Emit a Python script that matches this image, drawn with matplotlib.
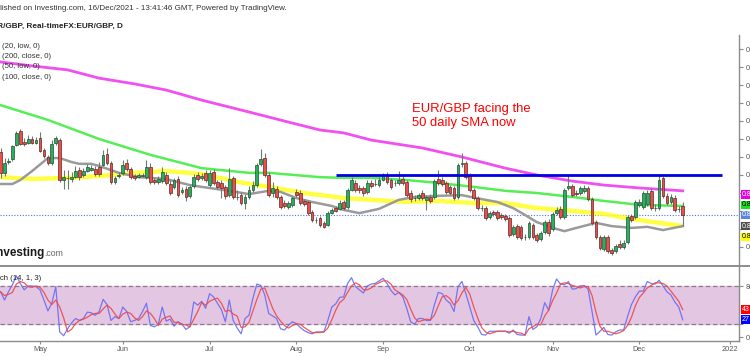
import numpy as np
import pandas as pd
import matplotlib
matplotlib.use('Agg')
import matplotlib.pyplot as plt
from matplotlib.transforms import blended_transform_factory
from matplotlib.lines import Line2D

plt.rcParams['font.family'] = ['Liberation Sans', 'DejaVu Sans']

# ---------------- data (daily EUR/GBP candles, 19 Apr - 16 Dec 2021) ----------------
start_date = '2021-04-19'

opens = [
    0.8664, 0.8606, 0.8636, 0.8644, 0.8683, 0.8722, 0.8692, 0.8689, 0.8700, 0.8689,
    0.8703, 0.8669, 0.8650, 0.8633, 0.8689, 0.8697, 0.8586, 0.8592, 0.8589, 0.8594,
    0.8614, 0.8600, 0.8611, 0.8614, 0.8617, 0.8622, 0.8628, 0.8658, 0.8633, 0.8581,
    0.8597, 0.8606, 0.8633, 0.8617, 0.8597, 0.8594, 0.8597, 0.8594, 0.8622, 0.8586,
    0.8581, 0.8583, 0.8600, 0.8575, 0.8567, 0.8589, 0.8553, 0.8561, 0.8542, 0.8569,
    0.8600, 0.8592, 0.8606, 0.8572, 0.8608, 0.8581, 0.8578, 0.8567, 0.8544, 0.8592,
    0.8539, 0.8544, 0.8522, 0.8539, 0.8558, 0.8572, 0.8631, 0.8647, 0.8600, 0.8550,
    0.8561, 0.8539, 0.8522, 0.8511, 0.8517, 0.8553, 0.8550, 0.8528, 0.8525, 0.8497,
    0.8475, 0.8481, 0.8467, 0.8461, 0.8494, 0.8508, 0.8506, 0.8525, 0.8511, 0.8558,
    0.8578, 0.8564, 0.8564, 0.8553, 0.8578, 0.8575, 0.8572, 0.8586, 0.8600, 0.8586,
    0.8578, 0.8578, 0.8589, 0.8581, 0.8550, 0.8536, 0.8536, 0.8550, 0.8531, 0.8539,
    0.8539, 0.8589, 0.8586, 0.8578, 0.8567, 0.8564, 0.8539, 0.8631, 0.8633, 0.8600,
    0.8558, 0.8536, 0.8508, 0.8508, 0.8483, 0.8497, 0.8497, 0.8489, 0.8486, 0.8481,
    0.8436, 0.8458, 0.8456, 0.8428, 0.8428, 0.8461, 0.8433, 0.8422, 0.8442, 0.8469,
    0.8450, 0.8494, 0.8506, 0.8483, 0.8564, 0.8569, 0.8550, 0.8550, 0.8556, 0.8564,
    0.8533, 0.8469, 0.8428, 0.8394, 0.8428, 0.8392, 0.8389, 0.8408, 0.8400, 0.8414,
    0.8486, 0.8483, 0.8517, 0.8511, 0.8519, 0.8556, 0.8508, 0.8508, 0.8592, 0.8542,
    0.8525, 0.8536, 0.8506, 0.8514]

highs = [
    0.8675, 0.8647, 0.8647, 0.8683, 0.8722, 0.8728, 0.8703, 0.8711, 0.8708, 0.8706,
    0.8719, 0.8675, 0.8656, 0.8697, 0.8708, 0.8703, 0.8614, 0.8614, 0.8608, 0.8625,
    0.8622, 0.8619, 0.8631, 0.8628, 0.8625, 0.8636, 0.8669, 0.8675, 0.8639, 0.8597,
    0.8608, 0.8642, 0.8644, 0.8622, 0.8603, 0.8606, 0.8606, 0.8642, 0.8633, 0.8592,
    0.8597, 0.8622, 0.8608, 0.8586, 0.8592, 0.8597, 0.8567, 0.8569, 0.8572, 0.8603,
    0.8608, 0.8606, 0.8614, 0.8614, 0.8617, 0.8586, 0.8586, 0.8572, 0.8619, 0.8597,
    0.8558, 0.8553, 0.8547, 0.8569, 0.8583, 0.8633, 0.8672, 0.8661, 0.8608, 0.8581,
    0.8569, 0.8544, 0.8531, 0.8528, 0.8542, 0.8561, 0.8558, 0.8533, 0.8531, 0.8503,
    0.8483, 0.8486, 0.8472, 0.8500, 0.8508, 0.8514, 0.8531, 0.8531, 0.8564, 0.8594,
    0.8586, 0.8572, 0.8569, 0.8586, 0.8586, 0.8589, 0.8594, 0.8606, 0.8608, 0.8592,
    0.8586, 0.8611, 0.8597, 0.8586, 0.8558, 0.8544, 0.8550, 0.8558, 0.8544, 0.8547,
    0.8589, 0.8614, 0.8594, 0.8583, 0.8572, 0.8569, 0.8633, 0.8661, 0.8639, 0.8606,
    0.8564, 0.8542, 0.8517, 0.8514, 0.8500, 0.8503, 0.8503, 0.8494, 0.8492, 0.8486,
    0.8461, 0.8464, 0.8461, 0.8436, 0.8472, 0.8467, 0.8439, 0.8444, 0.8475, 0.8478,
    0.8497, 0.8511, 0.8514, 0.8564, 0.8600, 0.8575, 0.8558, 0.8569, 0.8572, 0.8569,
    0.8539, 0.8475, 0.8433, 0.8433, 0.8433, 0.8397, 0.8408, 0.8419, 0.8419, 0.8489,
    0.8492, 0.8531, 0.8533, 0.8556, 0.8558, 0.8564, 0.8519, 0.8603, 0.8597, 0.8550,
    0.8547, 0.8544, 0.8514, 0.8525]

lows = [
    0.8592, 0.8597, 0.8631, 0.8639, 0.8681, 0.8683, 0.8681, 0.8686, 0.8686, 0.8686,
    0.8664, 0.8647, 0.8628, 0.8628, 0.8683, 0.8581, 0.8561, 0.8561, 0.8581, 0.8592,
    0.8586, 0.8594, 0.8608, 0.8611, 0.8597, 0.8597, 0.8625, 0.8628, 0.8575, 0.8575,
    0.8592, 0.8600, 0.8611, 0.8589, 0.8586, 0.8592, 0.8594, 0.8589, 0.8575, 0.8575,
    0.8575, 0.8578, 0.8572, 0.8544, 0.8561, 0.8539, 0.8547, 0.8528, 0.8536, 0.8564,
    0.8583, 0.8586, 0.8581, 0.8567, 0.8572, 0.8561, 0.8536, 0.8533, 0.8539, 0.8533,
    0.8531, 0.8517, 0.8506, 0.8533, 0.8553, 0.8567, 0.8625, 0.8594, 0.8539, 0.8539,
    0.8533, 0.8506, 0.8508, 0.8506, 0.8511, 0.8539, 0.8517, 0.8514, 0.8489, 0.8469,
    0.8467, 0.8456, 0.8453, 0.8458, 0.8492, 0.8497, 0.8503, 0.8503, 0.8506, 0.8556,
    0.8553, 0.8550, 0.8542, 0.8547, 0.8564, 0.8569, 0.8567, 0.8583, 0.8575, 0.8561,
    0.8569, 0.8572, 0.8572, 0.8539, 0.8525, 0.8528, 0.8531, 0.8531, 0.8503, 0.8522,
    0.8533, 0.8572, 0.8569, 0.8547, 0.8544, 0.8531, 0.8533, 0.8622, 0.8589, 0.8553,
    0.8531, 0.8503, 0.8500, 0.8475, 0.8478, 0.8486, 0.8475, 0.8478, 0.8472, 0.8428,
    0.8431, 0.8422, 0.8419, 0.8419, 0.8422, 0.8422, 0.8414, 0.8417, 0.8436, 0.8431,
    0.8444, 0.8489, 0.8478, 0.8478, 0.8558, 0.8539, 0.8542, 0.8544, 0.8550, 0.8528,
    0.8461, 0.8422, 0.8392, 0.8389, 0.8383, 0.8378, 0.8383, 0.8394, 0.8394, 0.8408,
    0.8469, 0.8478, 0.8511, 0.8506, 0.8514, 0.8503, 0.8500, 0.8503, 0.8536, 0.8517,
    0.8519, 0.8497, 0.8497, 0.8458]

closes = [
    0.8606, 0.8633, 0.8639, 0.8681, 0.8717, 0.8686, 0.8686, 0.8700, 0.8689, 0.8697,
    0.8667, 0.8653, 0.8633, 0.8686, 0.8703, 0.8586, 0.8594, 0.8592, 0.8594, 0.8611,
    0.8594, 0.8611, 0.8622, 0.8619, 0.8603, 0.8603, 0.8656, 0.8633, 0.8581, 0.8592,
    0.8600, 0.8628, 0.8617, 0.8594, 0.8592, 0.8600, 0.8600, 0.8622, 0.8581, 0.8581,
    0.8589, 0.8608, 0.8578, 0.8550, 0.8586, 0.8544, 0.8558, 0.8539, 0.8567, 0.8594,
    0.8589, 0.8597, 0.8586, 0.8606, 0.8578, 0.8567, 0.8564, 0.8542, 0.8589, 0.8539,
    0.8539, 0.8522, 0.8539, 0.8558, 0.8572, 0.8628, 0.8644, 0.8600, 0.8544, 0.8564,
    0.8539, 0.8511, 0.8514, 0.8522, 0.8536, 0.8544, 0.8522, 0.8519, 0.8494, 0.8475,
    0.8475, 0.8461, 0.8456, 0.8494, 0.8503, 0.8500, 0.8522, 0.8508, 0.8558, 0.8586,
    0.8558, 0.8558, 0.8550, 0.8578, 0.8569, 0.8575, 0.8586, 0.8600, 0.8581, 0.8567,
    0.8578, 0.8586, 0.8578, 0.8544, 0.8533, 0.8536, 0.8544, 0.8536, 0.8539, 0.8528,
    0.8583, 0.8578, 0.8575, 0.8553, 0.8550, 0.8536, 0.8628, 0.8633, 0.8594, 0.8558,
    0.8536, 0.8508, 0.8508, 0.8481, 0.8494, 0.8492, 0.8481, 0.8483, 0.8478, 0.8433,
    0.8456, 0.8428, 0.8425, 0.8428, 0.8467, 0.8428, 0.8419, 0.8439, 0.8469, 0.8439,
    0.8492, 0.8503, 0.8483, 0.8558, 0.8569, 0.8544, 0.8547, 0.8564, 0.8564, 0.8533,
    0.8467, 0.8428, 0.8397, 0.8428, 0.8389, 0.8383, 0.8403, 0.8400, 0.8411, 0.8483,
    0.8475, 0.8525, 0.8525, 0.8550, 0.8550, 0.8508, 0.8508, 0.8586, 0.8542, 0.8522,
    0.8539, 0.8503, 0.8506, 0.8489]

# moving averages, read at sample candles (candle index, value)
sma200_pos = [0, 8, 17, 25, 34, 42, 51, 63, 73, 81, 87, 94, 107, 117, 128, 136, 145, 153, 162, 173]
sma200_val = [0.8914, 0.8903, 0.8892, 0.8869, 0.8853, 0.8836, 0.8808, 0.8775, 0.8747, 0.8725,
              0.8717, 0.8697, 0.8675, 0.8650, 0.8619, 0.8600, 0.8583, 0.8572, 0.8564, 0.8556]

sma50_pos = [0, 12, 25, 38, 51, 63, 68, 81, 87, 94, 103, 111, 120, 128, 136, 145, 153, 162, 173]
sma50_val = [0.8794, 0.8753, 0.8700, 0.8656, 0.8619, 0.8606, 0.8606, 0.8594, 0.8592, 0.8592,
             0.8586, 0.8578, 0.8567, 0.8556, 0.8550, 0.8539, 0.8528, 0.8517, 0.8514]

sma100_pos = [0, 8, 17, 25, 34, 42, 51, 60, 68, 77, 87, 94, 103, 111, 120, 128, 136, 145, 153, 160, 167, 173]
sma100_val = [0.8594, 0.8589, 0.8592, 0.8597, 0.8606, 0.8611, 0.8603, 0.8581, 0.8567, 0.8550, 0.8536,
              0.8531, 0.8525, 0.8528, 0.8522, 0.8522, 0.8508, 0.8500, 0.8492, 0.8478, 0.8467, 0.8458]

sma20_pos = [0, 3, 5, 8, 12, 15, 18, 20, 23, 25, 30, 35, 42, 44, 48, 51, 58, 63, 68, 71, 75, 79,
             84, 87, 91, 96, 101, 105, 111, 117, 122, 126, 130, 133, 136, 141, 143, 146, 151, 155,
             160, 164, 168, 173]
sma20_val = [0.8575, 0.8575, 0.8586, 0.8611, 0.8647, 0.8647, 0.8636, 0.8631, 0.8631, 0.8625,
             0.8606, 0.8594, 0.8589, 0.8583, 0.8572, 0.8567, 0.8556, 0.8547, 0.8556, 0.8553,
             0.8536, 0.8525, 0.8514, 0.8503, 0.8494, 0.8506, 0.8531, 0.8539, 0.8542, 0.8544,
             0.8533, 0.8525, 0.8508, 0.8489, 0.8469, 0.8450, 0.8444, 0.8453, 0.8467, 0.8458,
             0.8453, 0.8456, 0.8447, 0.8458]

legend_labels = ['(20, low, 0)', '(200, close, 0)', '(50, low, 0)', '(100, close, 0)']

# Stochastic (14, 1, 3)
stoch_k = [
    71, 58, 71, 82, 96, 84, 74, 80, 80, 79,
    74, 58, 41, 53, 79, 8, 2, 13, 22, 29,
    26, 29, 39, 38, 34, 40, 59, 51, 26, 32,
    29, 47, 40, 24, 26, 29, 40, 53, 18, 16,
    20, 47, 25, 28, 17, 24, 20, 12, 16, 55,
    50, 56, 45, 68, 63, 53, 43, 24, 58, 26,
    14, 5, 29, 34, 61, 83, 81, 66, 37, 33,
    29, 13, 11, 18, 24, 21, 15, 10, 7, 5,
    8, 8, 8, 26, 47, 52, 62, 63, 84, 93,
    79, 74, 69, 80, 83, 84, 88, 92, 84, 73,
    66, 70, 63, 45, 24, 20, 29, 29, 26, 26,
    50, 70, 68, 58, 53, 40, 79, 87, 68, 47,
    26, 16, 4, 3, 9, 9, 9, 9, 9, 6,
    11, 4, 3, 3, 32, 12, 16, 29, 54, 42,
    74, 91, 83, 82, 87, 75, 76, 80, 81, 75,
    40, 3, 9, 15, 4, 3, 8, 11, 11, 32,
    51, 63, 72, 72, 87, 84, 83, 89, 80, 71,
    66, 55, 47, 27]

stoch_d = [
    71, 65, 67, 70, 83, 87, 85, 79, 78, 80,
    78, 70, 58, 51, 58, 47, 30, 8, 12, 21,
    26, 28, 31, 35, 37, 37, 44, 50, 45, 36,
    29, 36, 39, 37, 30, 26, 32, 41, 37, 29,
    18, 28, 31, 33, 23, 23, 20, 19, 16, 28,
    40, 54, 50, 56, 59, 61, 53, 40, 42, 36,
    33, 15, 16, 23, 41, 59, 75, 77, 61, 45,
    33, 25, 18, 14, 18, 21, 20, 15, 11, 7,
    7, 7, 8, 14, 27, 42, 54, 59, 70, 80,
    85, 82, 74, 74, 77, 82, 85, 88, 88, 83,
    74, 70, 66, 59, 44, 30, 24, 26, 28, 27,
    34, 49, 63, 65, 60, 50, 57, 69, 78, 67,
    47, 30, 15, 8, 5, 7, 9, 9, 9, 8,
    9, 7, 6, 3, 13, 16, 20, 19, 33, 42,
    57, 69, 83, 85, 84, 81, 79, 77, 79, 79,
    65, 39, 17, 9, 9, 7, 5, 7, 10, 18,
    31, 49, 62, 69, 77, 81, 85, 85, 84, 80,
    72, 64, 56, 43]

month_starts = ['2021-05-01', '2021-06-01', '2021-07-01', '2021-08-01', '2021-09-01',
                '2021-10-01', '2021-11-01', '2021-12-01', '2022-01-01']
month_labels = ['May', 'Jun', 'Jul', 'Aug', 'Sep', 'Oct', 'Nov', 'Dec', '2022']

price_ticks = [0.8400, 0.8450, 0.8500, 0.8550, 0.8600, 0.8650, 0.8700, 0.8750,
               0.8800, 0.8850, 0.8900, 0.8950]

resistance_level = 0.8600
resistance_start = '2021-08-16'
resistance_end = '2021-12-30'

# value tags on the price scale (level, colour, text colour)
price_tag_levels = [0.8545, 0.8517, 0.8489, 0.8458, 0.8428]
price_tag_colors = ['#e600e6', '#19e019', '#5b86dc', '#4d4d4d', '#ffff00']
price_tag_text = ['white', 'black', 'white', 'white', 'black']

# ---------------- figure ----------------
W, H = 750, 357
fig = plt.figure(figsize=(W / 100, H / 100), dpi=100)
fig.patch.set_facecolor('white')


def fx(px):
    return px / W


def fy(py):
    return 1 - py / H


ax = fig.add_axes([0, fy(266), fx(739), (266 - 35) / H])
ax2 = fig.add_axes([0, fy(341), fx(739), (341 - 266) / H])

all_days = pd.bdate_range(start_date, '2022-01-31')


def pos_of(d):
    return int(all_days.searchsorted(pd.Timestamp(d)))


n = len(closes)
x = np.arange(n)
O = np.array(opens)
Hh = np.array(highs)
L = np.array(lows)
C = np.array(closes)

XMIN, XMAX = -0.145, 187.27
AXIS_GRAY = '#8c8c8c'
LABEL_GRAY = '#555555'

# ---- price pane ----
ax.plot(sma100_pos, sma100_val, color='#ffff22', lw=3.2, alpha=0.85, zorder=2, solid_capstyle='butt')
ax.plot(sma50_pos, sma50_val, color='#55ee55', lw=1.8, zorder=2)
ax.plot(sma200_pos, sma200_val, color='#f050f0', lw=2.0, zorder=2)
ax.plot(sma20_pos, sma20_val, color='#9a9a9a', lw=1.8, zorder=2)

ax.axhline(C[-1], color='#4f78dc', lw=0.8, ls=(0, (1, 1.5)), zorder=1)

up = C >= O
bottom = np.minimum(O, C)
height = np.maximum(np.abs(C - O), 0.00005)
ax.vlines(x, L, Hh, color='#6e7c6e', lw=0.8, zorder=3)
ax.bar(x[up], height[up], bottom=bottom[up], width=0.7, color='#22b35e',
       edgecolor='#2b4a35', linewidth=0.5, zorder=4)
ax.bar(x[~up], height[~up], bottom=bottom[~up], width=0.7, color='#ee4e48',
       edgecolor='#5a2a2a', linewidth=0.5, zorder=4)

ax.plot([pos_of(resistance_start), pos_of(resistance_end)], [resistance_level, resistance_level],
        color='#0000e6', lw=2.0, zorder=5, solid_capstyle='butt')

ax.set_xlim(XMIN, XMAX)
ax.set_ylim(0.83472, 0.89889)
for s in ['top', 'left', 'bottom']:
    ax.spines[s].set_visible(False)
ax.spines['right'].set_color(AXIS_GRAY)
ax.spines['right'].set_linewidth(1.0)
ax.set_xticks([])
ax.yaxis.tick_right()
ax.set_yticks(price_ticks)
# tick labels hidden behind the value tags are left blank, as in the reference
ax.set_yticklabels(['' if min(abs(v - t) for t in price_tag_levels) < 0.0016 else f'{v:.4f}'
                    for v in price_ticks])
ax.tick_params(axis='y', length=3, width=0.8, colors=AXIS_GRAY, labelcolor=LABEL_GRAY,
               labelsize=5.3, pad=2)
ax.patch.set_alpha(0)

tr = blended_transform_factory(fig.transFigure, ax.transData)
for lvl, col, tc in zip(price_tag_levels, price_tag_colors, price_tag_text):
    ax.text(fx(742), lvl, f'{lvl:.4f}', transform=tr, fontsize=5.0, color=tc,
            va='center', ha='left', clip_on=False, zorder=10,
            bbox=dict(boxstyle='square,pad=0.12', fc=col, ec='none'))

# ---- stochastic pane ----
ax2.axhspan(20, 80, color='#e2c6e2', zorder=0)
for lv in (20, 80):
    ax2.axhline(lv, color='#8b7b8b', lw=0.9, ls=(0, (3.5, 2.2)), zorder=1)
ax2.plot(x, stoch_k, color='#6b6bf2', lw=0.9, alpha=0.9, zorder=3)
ax2.plot(x, stoch_d, color='#f04848', lw=0.9, alpha=0.9, zorder=3)
ax2.set_xlim(XMIN, XMAX)
ax2.set_ylim(-6.27, 111.4)
for s in ['top', 'left']:
    ax2.spines[s].set_visible(False)
for s in ['right', 'bottom']:
    ax2.spines[s].set_color(AXIS_GRAY)
    ax2.spines[s].set_linewidth(1.0)
ax2.yaxis.tick_right()
ax2.set_yticks([0, 20, 80])
ax2.set_yticklabels(['0.00', '', '80.00'])
ax2.tick_params(axis='y', length=3, width=0.8, colors=AXIS_GRAY, labelcolor=LABEL_GRAY,
                labelsize=5.3, pad=2)
ax2.set_xticks([pos_of(d) for d in month_starts])
ax2.set_xticklabels(month_labels)
ax2.tick_params(axis='x', length=2, width=0.8, colors=AXIS_GRAY, labelcolor=LABEL_GRAY,
                labelsize=5.3, pad=1.5)
ax2.patch.set_alpha(0)

tr2 = blended_transform_factory(fig.transFigure, ax2.transData)
for val, col in ((stoch_d[-1], '#ff0000'), (stoch_k[-1], '#0000ff')):
    ax2.text(fx(742), val, f'{val}', transform=tr2, fontsize=5.0, color='white',
             va='center', ha='left', clip_on=False, zorder=10,
             bbox=dict(boxstyle='square,pad=0.12', fc=col, ec='none'))

# separator between panes
fig.add_artist(Line2D([0, 1], [fy(266), fy(266)], color=AXIS_GRAY, lw=1.4,
                      transform=fig.transFigure))

# ---------------- texts ----------------
fig.text(fx(-14.5), fy(10), 'Published on Investing.com, 16/Dec/2021 - 13:41:46 GMT, Powered by TradingView.',
         fontsize=5.8, color='#333333', va='baseline')
fig.text(fx(-14), fy(27.5), 'EUR/GBP, Real-timeFX:EUR/GBP, D', fontsize=5.9,
         fontweight='bold', color='#222222', va='baseline')
for i, lab in enumerate(legend_labels):
    fig.text(fx(2), fy(47.5 + 10.5 * i), lab, fontsize=5.6, color='#333333', va='baseline')
fig.text(fx(-12), fy(279.5), 'Stoch (14, 1, 3)', fontsize=5.6, color='#222222', va='baseline')

logo = fig.text(fx(-7), fy(256), 'Investing', fontsize=8.4, fontweight='bold',
                color='#1a1a1a', va='baseline')
fig.canvas.draw()
bb = logo.get_window_extent()
fig.text(bb.x1 / W, fy(256), '.com', fontsize=6.3, color='#666666', va='baseline')

fig.text(fx(412), fy(112), 'EUR/GBP facing the', fontsize=9.4, color='#ff0000', va='baseline')
fig.text(fx(412), fy(126), '50 daily SMA now', fontsize=9.4, color='#ff0000', va='baseline')

fig.savefig('out.png', dpi=100)
